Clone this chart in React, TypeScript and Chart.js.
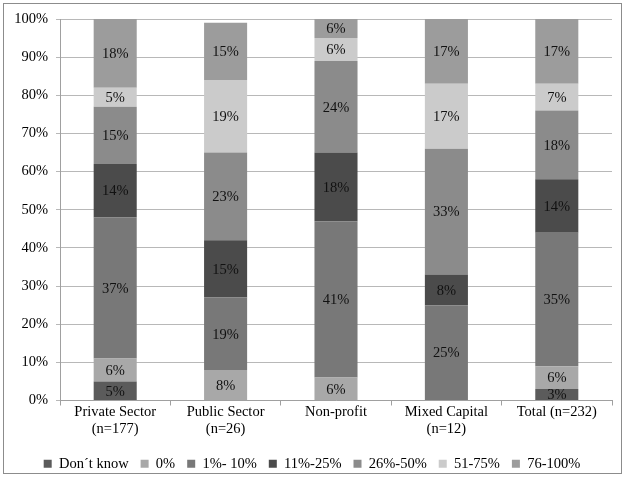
import React, { useEffect, useRef } from "react";
import { Chart, registerables } from "chart.js";

Chart.register(...registerables);

const categories: (string | string[])[] = [
  ["Private Sector", "(n=177)"],
  ["Public Sector", "(n=26)"],
  "Non-profit",
  ["Mixed Capital", "(n=12)"],
  "Total (n=232)",
];

const seriesNames = ["Don\u00b4t know", "0%", "1%- 10%", "11%-25%", "26%-50%", "51-75%", "76-100%"];

const dontKnow = [5, 0, 0, 0, 3];
const zeroPct = [6, 8, 6, 0, 6];
const pct1to10 = [37, 19, 41, 25, 35];
const pct11to25 = [14, 15, 18, 8, 14];
const pct26to50 = [15, 23, 24, 33, 18];
const pct51to75 = [5, 19, 6, 17, 7];
const pct76to100 = [18, 15, 6, 17, 17];

const seriesValues = [dontKnow, zeroPct, pct1to10, pct11to25, pct26to50, pct51to75, pct76to100];
const seriesColors = ["#5b5b5b", "#a8a8a8", "#787878", "#4b4b4b", "#8b8b8b", "#cbcbcb", "#9c9c9c"];

const yTicks = [0, 10, 20, 30, 40, 50, 60, 70, 80, 90, 100];

const FONT = '"Liberation Serif", "Times New Roman", serif';
const FONT_SIZE = 14.5;

// Writes each segment's percentage in the middle of its bar piece
const segmentLabels = {
  id: "segmentLabels",
  afterDatasetsDraw(chart: Chart) {
    const ctx = chart.ctx;
    ctx.save();
    ctx.font = `${FONT_SIZE}px ${FONT}`;
    ctx.fillStyle = "#111";
    ctx.textAlign = "center";
    ctx.textBaseline = "middle";
    const top = chart.chartArea.top;
    chart.data.datasets.forEach((ds, di) => {
      const meta = chart.getDatasetMeta(di);
      meta.data.forEach((el: any, i: number) => {
        const v = ds.data[i] as number;
        if (!v) return;
        const { x, y, base } = el.getProps(["x", "y", "base"], true);
        ctx.fillText(`${v}%`, x, (Math.max(y, top) + base) / 2 + 1);
      });
    });
    ctx.restore();
  },
};

export default function App() {
  const canvasRef = useRef<HTMLCanvasElement>(null);

  useEffect(() => {
    document.body.style.margin = "0";
    const chart = new Chart(canvasRef.current!, {
      type: "bar",
      data: {
        labels: categories,
        datasets: seriesNames.map((name, i) => ({
          label: name,
          data: seriesValues[i],
          backgroundColor: seriesColors[i],
          borderWidth: 0,
          barPercentage: 0.39,
          categoryPercentage: 1,
        })),
      },
      options: {
        animation: false,
        responsive: false,
        maintainAspectRatio: false,
        layout: { padding: { top: 19, left: 12, right: 14, bottom: -4 } },
        plugins: {
          tooltip: { enabled: false },
          legend: {
            position: "bottom",
            labels: {
              boxWidth: 8,
              boxHeight: 8,
              padding: 12,
              color: "#000",
              font: { family: FONT, size: FONT_SIZE },
            },
          },
        },
        scales: {
          x: {
            stacked: true,
            afterFit(scale: any) {
              scale.height = 44;
            },
            grid: {
              display: true,
              drawOnChartArea: false,
              drawTicks: true,
              tickLength: 5,
              color: "#a0a0a0",
            },
            border: { display: true, color: "#a0a0a0" },
            ticks: {
              color: "#000",
              font: { family: FONT, size: FONT_SIZE },
              maxRotation: 0,
              autoSkip: false,
              padding: -2,
            },
          },
          y: {
            stacked: true,
            min: 0,
            max: 100,
            afterBuildTicks(scale: any) {
              scale.ticks = yTicks.map((v) => ({ value: v }));
            },
            afterFit(scale: any) {
              scale.width = 48;
            },
            grid: {
              color: "#b8b8b8",
              tickLength: 4,
            },
            border: { display: true, color: "#a0a0a0" },
            ticks: {
              color: "#000",
              font: { family: FONT, size: FONT_SIZE },
              padding: 8,
              callback: (v: any) => `${v}%`,
            },
          },
        },
      },
      plugins: [segmentLabels],
    });
    return () => chart.destroy();
  }, []);

  return (
    <div style={{ position: "relative", width: 626, height: 477, background: "#fff" }}>
      <canvas ref={canvasRef} width={626} height={477} style={{ display: "block" }} />
      <div
        style={{
          position: "absolute",
          left: 3,
          top: 3,
          width: 617,
          height: 469,
          border: "1px solid #8c8c8c",
          pointerEvents: "none",
        }}
      />
    </div>
  );
}
